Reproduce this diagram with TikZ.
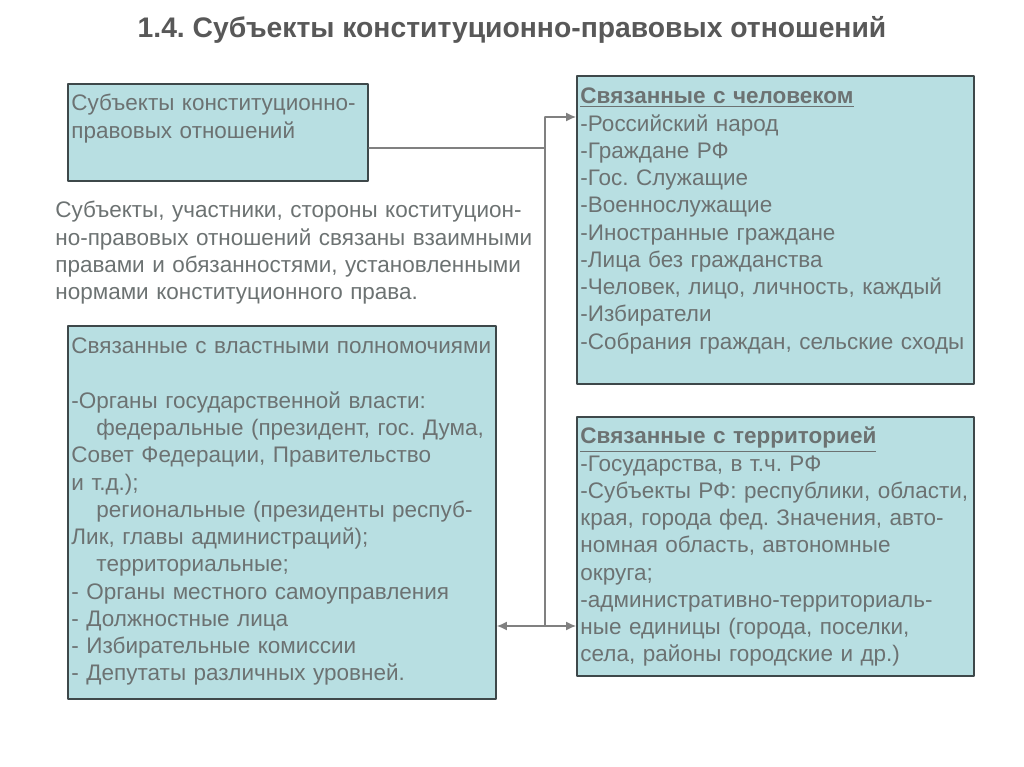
\documentclass[tikz,border=0pt]{standalone}
\usepackage{fontspec}
\setmainfont{Liberation Sans}
\usetikzlibrary{arrows.meta, calc}
\frenchspacing

\definecolor{boxfill}{RGB}{184,223,226}
\definecolor{boxline}{RGB}{62,72,74}
\definecolor{txtgray}{RGB}{108,114,114}
\definecolor{ttlgray}{RGB}{88,88,88}
\definecolor{lngray}{RGB}{128,128,128}

\begin{document}
\begin{tikzpicture}[line cap=round, line join=round,
    blok/.style={draw=boxline, line width=1.1pt, fill=boxfill, anchor=north west,
        align=left, inner xsep=0.07cm, inner ysep=0pt, text=txtgray,
        font=\fontsize{12.8}{15.5}\selectfont},
    svyaz/.style={draw=lngray, line width=0.7pt},
    strelka/.style={svyaz, -{Latex[length=2mm, width=1.8mm]}}]

    \useasboundingbox (0,0) rectangle (20.48,-15.34);

    % Заголовок
    \node[text=ttlgray, font=\fontsize{16.1}{19}\selectfont\bfseries] (titul) at (10.24,-0.60)
        {1.4. Субъекты конституционно-правовых отношений};

    % Левый верхний блок
    \node[blok, text width=5.86cm, text height=0.54cm, text depth=1.40cm] (subj) at (1.34,-1.66)
        {Субъекты конституционно-\\правовых отношений};

    % Пояснение
    \node[anchor=base west, align=left, text width=10.2cm, inner sep=0pt, text=txtgray,
        font=\fontsize{12.8}{15.5}\selectfont] (poyasn) at (1.10,-4.36)
        {Субъекты, участники, стороны коституцион-\\
         но-правовых отношений связаны взаимными\\
         правами и обязанностями, установленными\\
         нормами конституционного права.};

    % Властные полномочия
    \node[blok, text width=8.42cm, text height=0.56cm, text depth=6.90cm] (vlast) at (1.34,-6.50)
        {Связанные с властными полномочиями\\[15.5pt]
         -Органы государственной власти:\\
         \hspace*{0.5cm}федеральные (президент, гос. Дума,\\
         Совет Федерации, Правительство\\
         и т.д.);\\
         \hspace*{0.5cm}региональные (президенты респуб-\\
         Лик, главы администраций);\\
         \hspace*{0.5cm}территориальные;\\
         - Органы местного самоуправления\\
         - Должностные лица\\
         - Избирательные комиссии\\
         - Депутаты различных уровней.};

    % Связанные с человеком
    \node[blok, text width=7.80cm, text height=0.56cm, text depth=5.60cm] (chel) at (11.52,-1.50)
        {\underline{\textbf{Связанные с человеком}}\\
         -Российский народ\\
         -Граждане РФ\\
         -Гос. Служащие\\
         -Военнослужащие\\
         -Иностранные граждане\\
         -Лица без гражданства\\
         -Человек, лицо, личность, каждый\\
         -Избиратели\\
         -Собрания граждан, сельские сходы};

    % Связанные с территорией
    \node[blok, text width=7.80cm, text height=0.54cm, text depth=4.64cm] (terr) at (11.52,-8.32)
        {\underline{\textbf{Связанные с территорией}}\\
         -Государства, в т.ч. РФ\\
         -Субъекты РФ: республики, области,\\
         края, города фед. Значения, авто-\\
         номная область, автономные\\
         округа;\\
         -административно-территориаль-\\
         ные единицы (города, поселки,\\
         села, районы городские и др.)};

    % Соединительные линии
    \coordinate (uzel) at (10.90,-2.96);
    \coordinate (verh) at (10.90,-2.34);
    \coordinate (niz) at (10.90,-12.52);

    \draw[svyaz] (subj.east |- uzel) -- (uzel);
    \draw[svyaz] (verh) -- (niz);
    \draw[strelka] (verh) -- (chel.west |- verh);
    \draw[strelka] (niz) -- (terr.west |- niz);
    \draw[strelka] (niz) -- (vlast.east |- niz);

\end{tikzpicture}
\end{document}
